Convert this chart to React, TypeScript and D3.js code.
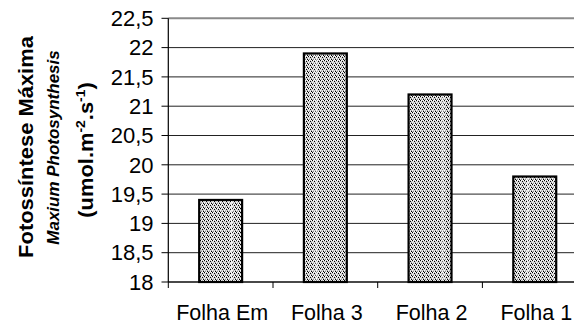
import React from "react";
import * as d3 from "d3";

// Leaf position and maximum photosynthesis value per leaf
const categories = ["Folha Em", "Folha 3", "Folha 2", "Folha 1"];
const values = [19.4, 21.9, 21.2, 19.8];
const yTicks = [18, 18.5, 19, 19.5, 20, 20.5, 21, 21.5, 22, 22.5];

const W = 574;
const H = 323;
const plotLeft = 168.3;
const plotRight = 587.1;
const plotTop = 18.3;
const plotBottom = 282;

const font = "'Liberation Sans', Arial, sans-serif";

export default function App() {
  const x = d3
    .scaleBand<string>()
    .domain(categories)
    .range([plotLeft, plotRight])
    .paddingInner(0.59)
    .paddingOuter(0.295);
  const y = d3.scaleLinear().domain([18, 22.5]).range([plotBottom, plotTop]);
  const fmt = (v: number) => String(v).replace(".", ",");
  const step = x.step();
  const bounds = d3.range(categories.length + 1).map((i) => plotLeft + i * step);

  // dotted fill: 4x4 pixel cell of black, white and grey
  const cell = [
    ["#000", "#fff", "#c4c4c4", "#fff"],
    ["#c4c4c4", "#e4e4e4", "#000", "#d4d4d4"],
    ["#fff", "#c0c0c0", "#dcdcdc", "#9a9a9a"],
    ["#d0d0d0", "#8a8a8a", "#fff", "#000"],
  ];

  return (
    <svg
      width={W}
      height={H}
      style={{ position: "absolute", left: 0, top: 0, background: "#fff" }}
    >
      <defs>
        <pattern id="dots" patternUnits="userSpaceOnUse" width={4} height={4}>
          {cell.map((row, r) =>
            row.map((c, k) => (
              <rect key={`${r}-${k}`} x={k} y={r} width={1} height={1} fill={c} />
            ))
          )}
        </pattern>
        <pattern id="stripe" patternUnits="userSpaceOnUse" x={19.5} width={42.3} height={10}>
          <rect x={0} y={0} width={1.2} height={10} fill="#fff" opacity={0.85} />
        </pattern>
      </defs>

      {/* horizontal gridlines */}
      {yTicks.map((t) => (
        <line
          key={t}
          x1={plotLeft}
          x2={W}
          y1={y(t)}
          y2={y(t)}
          stroke={t === 22.5 ? "#8a8a8a" : "#222"}
          strokeWidth={t === 22.5 ? 2 : 1}
        />
      ))}

      {/* bars */}
      {categories.map((c, i) => (
        <g key={c}>
          <rect
            x={x(c)}
            y={y(values[i])}
            width={x.bandwidth()}
            height={plotBottom - y(values[i])}
            fill="url(#dots)"
          />
          <rect
            x={x(c)}
            y={y(values[i])}
            width={x.bandwidth()}
            height={plotBottom - y(values[i])}
            fill="url(#stripe)"
            stroke="#000"
            strokeWidth={2.2}
          />
        </g>
      ))}

      {/* y axis */}
      <line x1={plotLeft} x2={plotLeft} y1={plotTop} y2={plotBottom} stroke="#000" strokeWidth={1.2} />
      {yTicks.map((t) => (
        <g key={`yt${t}`}>
          <line x1={161.5} x2={plotLeft} y1={y(t)} y2={y(t)} stroke="#000" strokeWidth={1} />
          <text
            x={153.5}
            y={y(t)}
            textAnchor="end"
            dy="0.35em"
            fontFamily={font}
            fontSize={22}
            fill="#000"
          >
            {fmt(t)}
          </text>
        </g>
      ))}

      {/* x axis */}
      <line x1={plotLeft} x2={W} y1={plotBottom} y2={plotBottom} stroke="#000" strokeWidth={1.2} />
      {bounds.map((b, i) => (
        <line key={`xt${i}`} x1={b} x2={b} y1={plotBottom} y2={288} stroke="#000" strokeWidth={1} />
      ))}
      {categories.map((c) => (
        <text
          key={`xl${c}`}
          x={(x(c) as number) + x.bandwidth() / 2 + 1.5}
          y={319.5}
          textAnchor="middle"
          fontFamily={font}
          fontSize={21.5}
          fill="#000"
        >
          {c}
        </text>
      ))}

      {/* y axis titles */}
      <text
        transform="translate(33,147) rotate(-90) scale(1.07,1)"
        textAnchor="middle"
        fontFamily={font}
        fontWeight="bold"
        fontSize={20.5}
        fill="#000"
      >
        Fotossíntese Máxima
      </text>
      <text
        transform="translate(59,147.5) rotate(-90) scale(1.03,1)"
        textAnchor="middle"
        fontFamily={font}
        fontWeight="bold"
        fontStyle="italic"
        fontSize={16.5}
        fill="#000"
      >
        Maxium Photosynthesis
      </text>
      <text
        transform="translate(93,150) rotate(-90) scale(1.07,1)"
        textAnchor="middle"
        fontFamily={font}
        fontWeight="bold"
        fontSize={20.5}
        fill="#000"
      >
        (umol.m
        <tspan fontSize={13} dy={-8}>-2</tspan>
        <tspan dy={8}>.s</tspan>
        <tspan fontSize={13} dy={-8}>-1</tspan>
        <tspan dy={8}>)</tspan>
      </text>
    </svg>
  );
}
